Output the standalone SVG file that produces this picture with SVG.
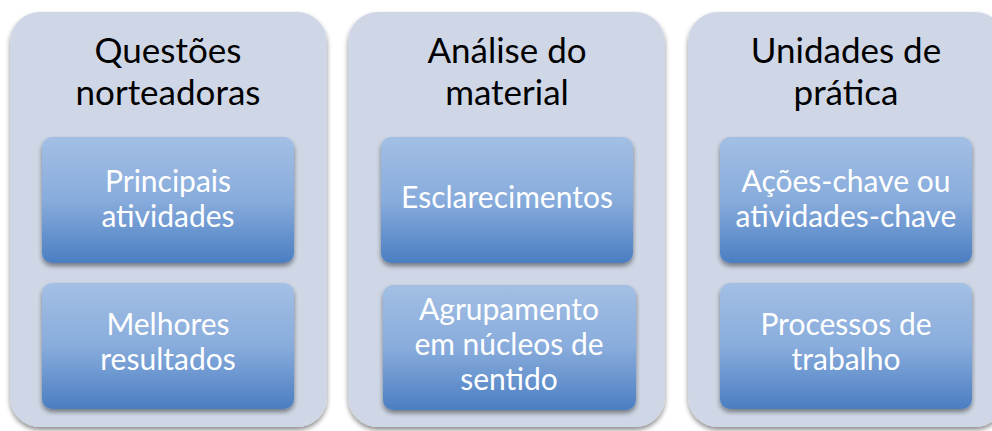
<svg xmlns="http://www.w3.org/2000/svg" width="992" height="431" viewBox="0 0 992 431">
<defs>
<linearGradient id="g" x1="0" y1="0" x2="0" y2="1">
<stop offset="0" stop-color="#a3bfe4"/>
<stop offset="0.5" stop-color="#88acdc"/>
<stop offset="1" stop-color="#4b7ec2"/>
</linearGradient>
<filter id="sh" x="-10%" y="-10%" width="120%" height="130%">
<feGaussianBlur in="SourceAlpha" stdDeviation="2.5"/>
<feOffset dx="0" dy="3" result="b"/>
<feComponentTransfer><feFuncA type="linear" slope="0.45"/></feComponentTransfer>
<feMerge><feMergeNode/><feMergeNode in="SourceGraphic"/></feMerge>
</filter>
</defs>
<style>
.outer{fill:#cfd7e6;filter:url(#sh)}
.inner{fill:url(#g);filter:url(#sh)}
.t{font-family:Lato,"Open Sans","Liberation Sans",sans-serif;font-size:35px;fill:#000;text-anchor:middle}
.s{font-family:Lato,"Open Sans","Liberation Sans",sans-serif;font-size:30px;fill:#fff;text-anchor:middle}
</style>
<rect width="992" height="431" fill="#fff"/>
<g id="col1">
<rect class="outer" x="10" y="12" width="317" height="415" rx="30"/>
<text class="t" x="168" y="63">Questões</text>
<text class="t" x="168" y="105">norteadoras</text>
</g>
<g id="col2">
<rect class="outer" x="348" y="12" width="317" height="415" rx="30"/>
<text class="t" x="507" y="63">Análise do</text>
<text class="t" x="507" y="105">material</text>
</g>
<g id="col3">
<rect class="outer" x="688" y="12" width="317" height="415" rx="30"/>
<text class="t" x="846" y="63">Unidades de</text>
<text class="t" x="846" y="105">prática</text>
</g>
<g id="n1">
<rect class="inner" x="42" y="137" width="252" height="126" rx="10"/>
<text class="s" x="168" y="192">Principais</text>
<text class="s" x="168" y="227">atividades</text>
</g>
<g id="n2">
<rect class="inner" x="42" y="283" width="252" height="126" rx="10"/>
<text class="s" x="168" y="335">Melhores</text>
<text class="s" x="168" y="370">resultados</text>
</g>
<g id="n3">
<rect class="inner" x="381" y="137" width="252" height="126" rx="10"/>
<text class="s" x="507" y="208">Esclarecimentos</text>
</g>
<g id="n4">
<rect class="inner" x="383" y="285" width="253" height="125" rx="10"/>
<text class="s" x="509" y="320">Agrupamento</text>
<text class="s" x="509" y="355">em núcleos de</text>
<text class="s" x="509" y="390">sentido</text>
</g>
<g id="n5">
<rect class="inner" x="720" y="137" width="252" height="126" rx="10"/>
<text class="s" x="846" y="192">Ações-chave ou</text>
<text class="s" x="846" y="227">atividades-chave</text>
</g>
<g id="n6">
<rect class="inner" x="720" y="283" width="252" height="126" rx="10"/>
<text class="s" x="846" y="335">Processos de</text>
<text class="s" x="846" y="370">trabalho</text>
</g>
<g id="connectors"/>
</svg>
